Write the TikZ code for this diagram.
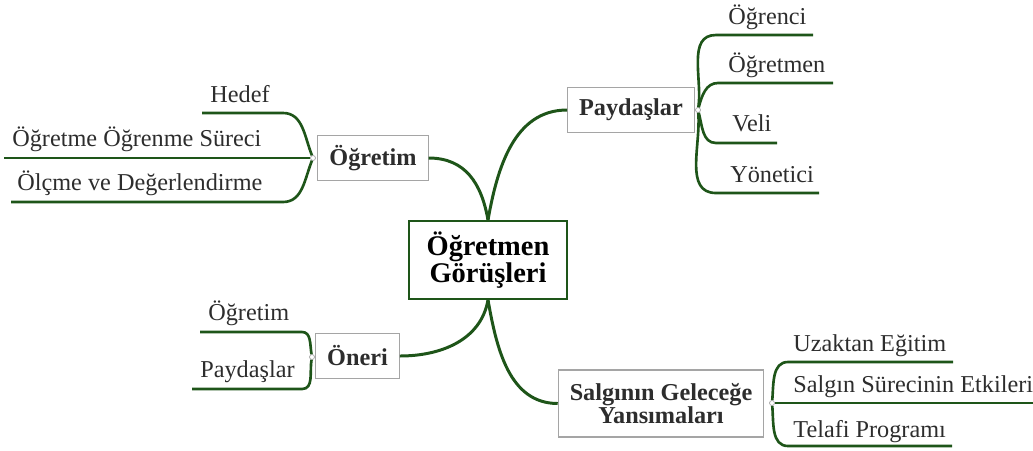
\documentclass[tikz,border=0pt]{standalone}
\usepackage{fontspec}
\setmainfont{Liberation Serif}
\usetikzlibrary{positioning}
\definecolor{mapgreen}{RGB}{30,85,25}
\definecolor{textgray}{RGB}{45,45,45}
\definecolor{boxgray}{RGB}{165,165,165}
\tikzset{
  topic/.style={draw=boxgray,line width=0.6pt,fill=white,text=textgray,
    font=\fontsize{13.8}{13}\selectfont\bfseries,align=center,
    inner xsep=0.23cm,minimum height=0.9cm},
  core/.style={draw=mapgreen,line width=1.1pt,fill=white,text=black,
    font=\fontsize{16.2}{15.4}\selectfont\bfseries,align=center,
    minimum width=3.16cm,minimum height=1.56cm},
  leaf/.style={anchor=base west,inner sep=0pt,text=textgray,
    font=\fontsize{13.8}{14}\selectfont},
  branch/.style={draw=mapgreen,line width=1.7pt},
  twig/.style={draw=mapgreen,line width=1.5pt},
  hub/.style={circle,draw=boxgray,fill=white,line width=0.4pt,
    inner sep=0pt,minimum size=0.1cm}
}
\begin{document}
\begin{tikzpicture}[x=0.02cm,y=0.02cm]
  \useasboundingbox (0,0) rectangle (1033,-450);
  %
  % Boxes
  \node[core] (core) at (488,-260) {Öğretmen\\Görüşleri};
  \node[topic] (ogretim) at (373,-158) {Öğretim};
  \node[topic] (paydaslar) at (631,-110) {Paydaşlar};
  \node[topic] (oneri) at (357.5,-356) {Öneri};
  \node[topic,minimum height=1.34cm] (salginin) at (661,-403.5)
    {Salgının Geleceğe\\Yansımaları};
  %
  % Main branches
  \draw[branch] (ogretim.east) to[out=0,in=100,looseness=1.1] (core.north);
  \draw[branch] (core.north) to[out=80,in=180] (paydaslar.west);
  \draw[branch] (oneri.east) to[out=0,in=-100] (core.south);
  \draw[branch] (core.south) to[out=-80,in=180] (salginin.west);
  %
  % Hubs
  \node[hub] (ogretimHub) at (313,-158) {};
  \node[hub] (paydaslarHub) at (698,-110) {};
  \node[hub] (oneriHub) at (312,-357) {};
  \node[hub] (salgininHub) at (772,-403) {};
  %
  % Leaves of Ogretim
  \node[leaf] (hedef) at (210,-102) {Hedef};
  \node[leaf] (surec) at (12,-146) {Öğretme Öğrenme Süreci};
  \node[leaf] (olcme) at (17,-190) {Ölçme ve Değerlendirme};
  \coordinate (hedefBend) at (283,-113);
  \coordinate (hedefTip) at (202,-113);
  \coordinate (surecTip) at (4,-158);
  \coordinate (olcmeBend) at (283,-202);
  \coordinate (olcmeTip) at (11,-202);
  \draw[twig] (ogretimHub) to[out=112,in=0] (hedefBend) -- (hedefTip);
  \draw[twig] (ogretimHub) -- (surecTip);
  \draw[twig] (ogretimHub) to[out=-112,in=0] (olcmeBend) -- (olcmeTip);
  %
  % Leaves of Paydaslar
  \node[leaf] (ogrenci) at (728,-24) {Öğrenci};
  \node[leaf] (ogretmen) at (728,-72) {Öğretmen};
  \node[leaf] (veli) at (732,-131) {Veli};
  \node[leaf] (yonetici) at (730,-182) {Yönetici};
  \coordinate (ogrenciBend) at (716,-35);
  \coordinate (ogrenciTip) at (813,-35);
  \coordinate (ogretmenBend) at (718,-83);
  \coordinate (ogretmenTip) at (833,-83);
  \coordinate (veliBend) at (716,-143);
  \coordinate (veliTip) at (777,-143);
  \coordinate (yoneticiBend) at (716,-193);
  \coordinate (yoneticiTip) at (819,-193);
  \draw[twig] (paydaslarHub) to[out=82,in=180] (ogrenciBend) -- (ogrenciTip);
  \draw[twig] (paydaslarHub) to[out=75,in=180] (ogretmenBend) -- (ogretmenTip);
  \draw[twig] (paydaslarHub) to[out=-75,in=180] (veliBend) -- (veliTip);
  \draw[twig] (paydaslarHub) to[out=-85,in=180] (yoneticiBend) -- (yoneticiTip);
  %
  % Leaves of Oneri
  \node[leaf] (oneriOgretim) at (208,-320) {Öğretim};
  \node[leaf] (oneriPaydas) at (200,-377) {Paydaşlar};
  \coordinate (oneriOgretimBend) at (302,-332);
  \coordinate (oneriOgretimTip) at (200,-332);
  \coordinate (oneriPaydasBend) at (302,-389);
  \coordinate (oneriPaydasTip) at (192,-389);
  \draw[twig] (oneriHub) to[out=100,in=0] (oneriOgretimBend) -- (oneriOgretimTip);
  \draw[twig] (oneriHub) to[out=-100,in=0] (oneriPaydasBend) -- (oneriPaydasTip);
  %
  % Leaves of Salginin
  \node[leaf] (uzaktan) at (793,-351) {Uzaktan Eğitim};
  \node[leaf] (etkiler) at (793,-392) {Salgın Sürecinin Etkileri};
  \node[leaf] (telafi) at (793,-437) {Telafi Programı};
  \coordinate (uzaktanBend) at (788,-362);
  \coordinate (uzaktanTip) at (953,-362);
  \coordinate (etkilerTip) at (1033,-403);
  \coordinate (telafiBend) at (788,-446);
  \coordinate (telafiTip) at (952,-446);
  \draw[twig] (salgininHub) to[out=85,in=180] (uzaktanBend) -- (uzaktanTip);
  \draw[twig] (salgininHub) -- (etkilerTip);
  \draw[twig] (salgininHub) to[out=-85,in=180] (telafiBend) -- (telafiTip);
  %
\end{tikzpicture}
\end{document}
